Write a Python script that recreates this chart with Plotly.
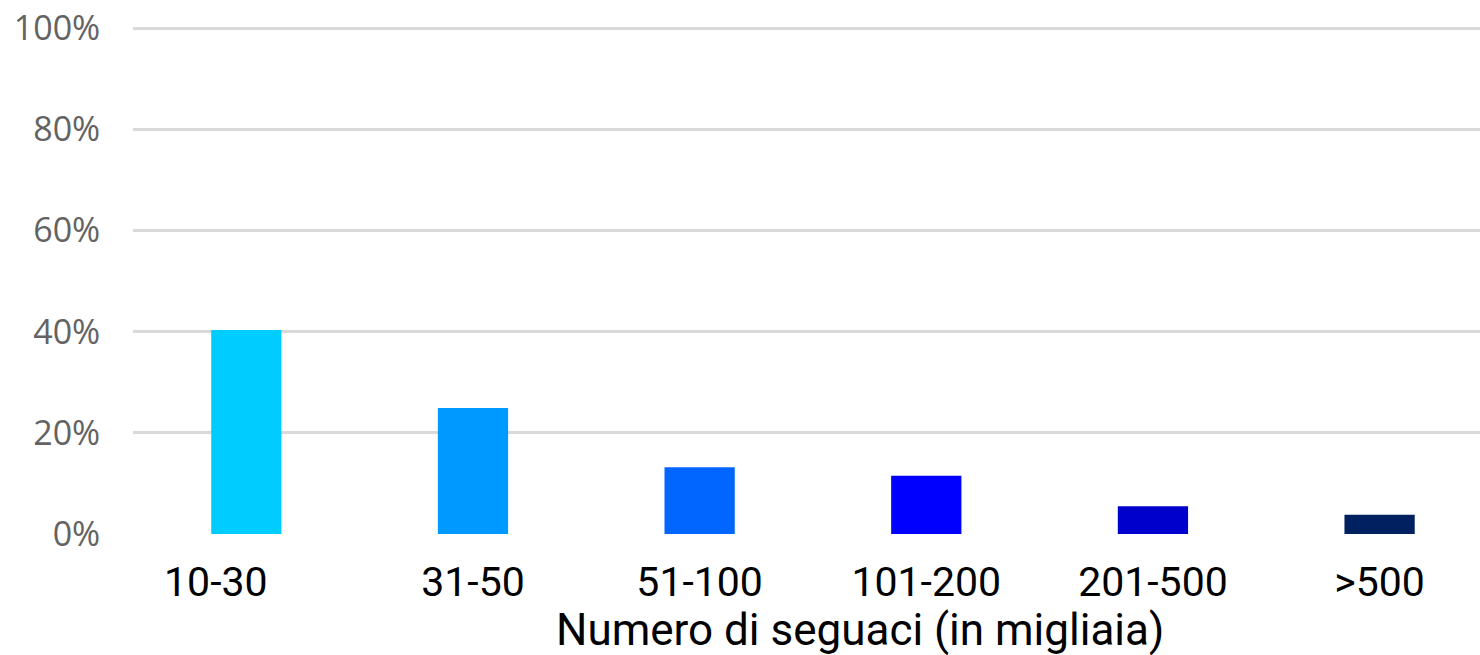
import plotly.graph_objects as go

categories = ["10-30", "31-50", "51-100", "101-200", "201-500", ">500"]
tick_labels = ["10-30\u00a0\u00a0\u00a0\u00a0\u00a0\u00a0", "31-50", "51-100", "101-200", "201-500", ">500"]
values = [0.403, 0.249, 0.132, 0.115, 0.055, 0.038]
colors = ["#00CCFF", "#0099FF", "#0066FF", "#0000FF", "#0000CC", "#002060"]
y_ticks = [0, 0.2, 0.4, 0.6, 0.8, 1.0]
y_tick_labels = ["0%", "20%", "40%", "60%", "80%", "100%"]
x_title = "Numero di seguaci (in migliaia)"

fig = go.Figure(go.Bar(
    x=categories, y=values,
    marker=dict(color=colors, line=dict(width=0)),
    width=0.31,
))

fig.update_layout(
    width=1480, height=655,
    margin=dict(l=133, r=0, t=26, b=121, autoexpand=False),
    paper_bgcolor="white", plot_bgcolor="white",
    showlegend=False,
    xaxis=dict(
        range=[-0.5, 5.443], automargin=False,
        tickvals=categories, ticktext=tick_labels,
        showgrid=False, zeroline=False, showline=False,
        tickfont=dict(family="Roboto", size=41, color="black"),
        ticks="outside", ticklen=12, tickcolor="rgba(0,0,0,0)",
    ),
    yaxis=dict(
        range=[0, 1.004], tickvals=y_ticks, ticktext=y_tick_labels, automargin=False,
        showgrid=True, gridcolor="#D9D9D9", gridwidth=3,
        zeroline=False, showline=False,
        tickfont=dict(family="Open Sans", size=34, color="#636363"),
        ticks="outside", ticklen=25, tickcolor="rgba(0,0,0,0)",
    ),
    annotations=[dict(
        text=x_title, xref="paper", yref="paper",
        x=0.5397, y=-0.1897, xanchor="center", yanchor="middle",
        showarrow=False, borderpad=0,
        font=dict(family="Roboto", size=44, color="black"),
    )],
)

fig.write_html("out.html", config={"displayModeBar": False},
               post_script="document.body.style.margin='0';")
